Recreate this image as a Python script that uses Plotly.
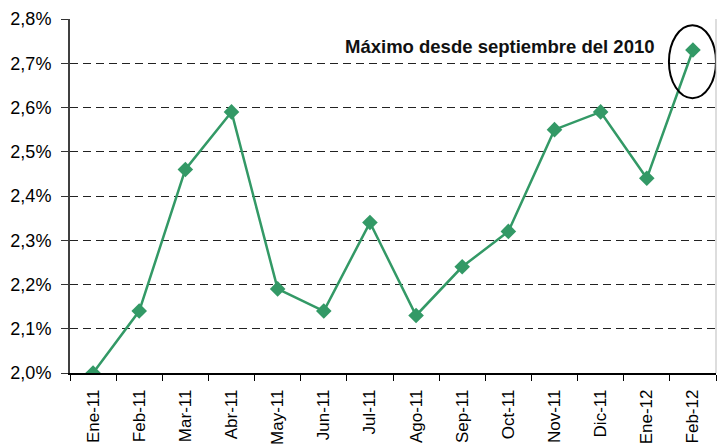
import plotly.graph_objects as go

categories = ["Ene-11", "Feb-11", "Mar-11", "Abr-11", "May-11", "Jun-11", "Jul-11",
              "Ago-11", "Sep-11", "Oct-11", "Nov-11", "Dic-11", "Ene-12", "Feb-12"]
values = [2.00, 2.14, 2.46, 2.59, 2.19, 2.14, 2.34, 2.13, 2.24, 2.32, 2.55, 2.59, 2.44, 2.73]
y_ticks = [2.0, 2.1, 2.2, 2.3, 2.4, 2.5, 2.6, 2.7, 2.8]
y_tick_text = [f"{v:.1f}%".replace(".", ",") for v in y_ticks]
annotation_text = "Máximo desde septiembre del 2010"

green = "#339966"
font = "Liberation Sans, Arial, sans-serif"

fig = go.Figure()
fig.add_trace(go.Scatter(
    x=categories, y=values, mode="lines+markers",
    line=dict(color=green, width=2.5),
    marker=dict(symbol="diamond", size=12, color=green),
    showlegend=False, hoverinfo="skip",
))

fig.add_annotation(
    x=12.22, y=2.737, xref="x", yref="y", text="<b>" + annotation_text + "</b>",
    showarrow=False, xanchor="right", yanchor="middle",
    font=dict(family=font, size=18.5, color="#111111"),
)
fig.add_shape(type="circle", xref="x", yref="y",
              x0=12.48, x1=13.5, y0=2.621, y1=2.786,
              line=dict(color="black", width=2))

fig.update_layout(
    width=717, height=444,
    margin=dict(l=70, r=1, t=19, b=71, autoexpand=False),
    paper_bgcolor="white", plot_bgcolor="white",
    font=dict(family=font, size=15, color="black"),
    xaxis=dict(
        type="category", range=[-0.5, 13.5], tickangle=-90,
        tickson="boundaries", ticks="outside", ticklen=6, tickcolor="black",
        showline=True, linecolor="black", linewidth=1.5, showgrid=False,
        tickfont=dict(family=font, size=17), ticklabelstandoff=8,
    ),
    yaxis=dict(
        range=[2.0, 2.8], tickvals=y_ticks, ticktext=y_tick_text,
        ticks="outside", ticklen=7, tickcolor="#333333",
        showline=True, linecolor="#404040", linewidth=2,
        showgrid=True, gridcolor="#222222", griddash="8px,5px", gridwidth=1,
        zeroline=False, tickfont=dict(family=font, size=18), ticklabelstandoff=6,
    ),
)
fig.add_shape(type="line", xref="paper", yref="paper", x0=1, x1=1, y0=0, y1=1,
              line=dict(color="#bbbbbb", width=1))

fig.write_html("out.html", config={"displayModeBar": False},
               post_script="document.body.style.margin='0';")
